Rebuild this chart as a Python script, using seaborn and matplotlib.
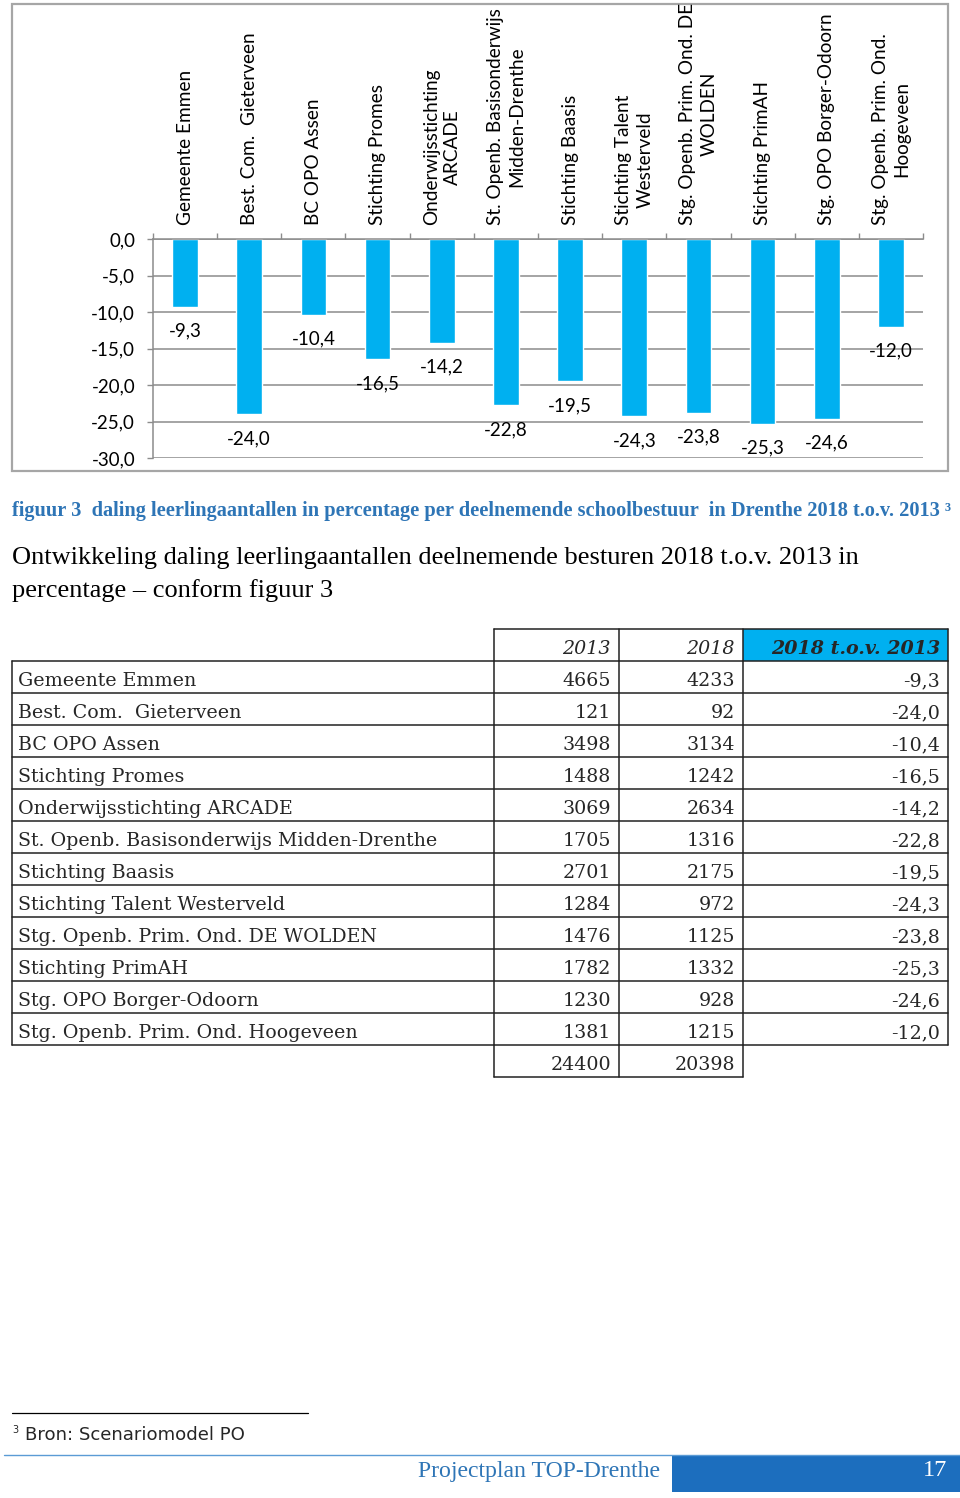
import numpy as np
import pandas as pd
import matplotlib
matplotlib.use("Agg")
import matplotlib.pyplot as plt
import seaborn as sns
from matplotlib.patches import Rectangle

# ---------------- data ----------------
names = [
    "Gemeente Emmen",
    "Best. Com.  Gieterveen",
    "BC OPO Assen",
    "Stichting Promes",
    "Onderwijsstichting ARCADE",
    "St. Openb. Basisonderwijs Midden-Drenthe",
    "Stichting Baasis",
    "Stichting Talent Westerveld",
    "Stg. Openb. Prim. Ond. DE WOLDEN",
    "Stichting PrimAH",
    "Stg. OPO Borger-Odoorn",
    "Stg. Openb. Prim. Ond. Hoogeveen",
]
chart_labels = [
    "Gemeente Emmen",
    "Best. Com.  Gieterveen",
    "BC OPO Assen",
    "Stichting Promes",
    "Onderwijsstichting\nARCADE",
    "St. Openb. Basisonderwijs\nMidden-Drenthe",
    "Stichting Baasis",
    "Stichting Talent\nWesterveld",
    "Stg. Openb. Prim. Ond. DE\nWOLDEN",
    "Stichting PrimAH",
    "Stg. OPO Borger-Odoorn",
    "Stg. Openb. Prim. Ond.\nHoogeveen",
]
pct = [-9.3, -24.0, -10.4, -16.5, -14.2, -22.8, -19.5, -24.3, -23.8, -25.3, -24.6, -12.0]
n2013 = [4665, 121, 3498, 1488, 3069, 1705, 2701, 1284, 1476, 1782, 1230, 1381]
n2018 = [4233, 92, 3134, 1242, 2634, 1316, 2175, 972, 1125, 1332, 928, 1215]
y_ticks = [0, -5, -10, -15, -20, -25, -30]
header_labels = ["2013", "2018", "2018 t.o.v. 2013"]

caption = ("figuur 3  daling leerlingaantallen in percentage per deelnemende "
           "schoolbestuur  in Drenthe 2018 t.o.v. 2013 \u00b3")
heading1 = "Ontwikkeling daling leerlingaantallen deelnemende besturen 2018 t.o.v. 2013 in"
heading2 = "percentage \u2013 conform figuur 3"

def fmt_nl(v):
    return f"{v:.1f}".replace(".", ",")

# ---------------- style ----------------
sns.set_style("white")
plt.rcParams["font.family"] = ["Lato", "DejaVu Sans"]

W, H = 960, 1498
BAR = "#00B0F0"
GRID = "#8C8C8C"
BLUE_TXT = "#2E75B6"

fig = plt.figure(figsize=(W / 100, H / 100), dpi=100)
page = fig.add_axes([0, 0, 1, 1], zorder=0)
page.set_xlim(0, W)
page.set_ylim(H, 0)
page.axis("off")

# chart frame
page.add_patch(Rectangle((12, 4), 936, 467, fill=False, ec="#A6A6A6", lw=1.6))

# ---------------- chart ----------------
ax = fig.add_axes([153 / W, 1 - 458 / H, 770 / W, 219 / H], zorder=1)
ax.set_facecolor("none")
df = pd.DataFrame({"bestuur": names, "pct": pct})
sns.barplot(data=df, x="bestuur", y="pct", color=BAR, saturation=1,
            width=0.4, ax=ax, zorder=2)
ax.set_ylim(-30, 0)
ax.set_xlim(-0.5, len(names) - 0.5)
ax.set_xlabel("")
ax.set_ylabel("")

ax.set_yticks(y_ticks)
ax.set_yticklabels([fmt_nl(v) for v in y_ticks])
ax.yaxis.grid(True, color=GRID, lw=1.1)
ax.set_axisbelow(True)
ax.tick_params(axis="y", length=4.3, width=1.0, color=GRID, pad=8.5,
               labelsize=13.5, labelcolor="black", left=True)

ax.xaxis.set_ticks_position("top")
ax.set_xticks(range(len(names)))
ax.set_xticklabels(chart_labels, rotation=90)
for lab in ax.get_xticklabels():
    lab.set_multialignment("center")
    lab.set_linespacing(1.3)
ax.set_xticks(np.arange(-0.5, len(names)), minor=True)
ax.tick_params(axis="x", which="major", length=0, pad=10, labelsize=13.7,
               labelcolor="black", top=True, bottom=False)
ax.tick_params(axis="x", which="minor", length=4, width=1.0, color=GRID,
               top=True, bottom=False)

for s in ["right", "bottom"]:
    ax.spines[s].set_visible(False)
for s in ["left", "top"]:
    ax.spines[s].set_color(GRID)
    ax.spines[s].set_linewidth(1.1)

for p, v in zip(ax.containers[0], pct):
    x = p.get_x() + p.get_width() / 2
    yend = p.get_y() + p.get_height()
    ax.annotate(fmt_nl(v), (x, yend), xytext=(0, -21.5), textcoords="offset points",
                ha="center", va="baseline", fontsize=13.5, color="black",
                annotation_clip=False)

# ---------------- caption & heading ----------------
t_cap = page.text(12, 511, caption, color=BLUE_TXT, fontweight="bold",
                  family=["Liberation Serif", "DejaVu Serif"], va="center", ha="left", fontsize=13)
t_h1 = page.text(12, 558, heading1, color="black",
                 family=["Liberation Serif", "DejaVu Serif"], va="center", ha="left", fontsize=17)
t_h2 = page.text(12, 591, heading2, color="black",
                 family=["Liberation Serif", "DejaVu Serif"], va="center", ha="left", fontsize=17)

# ---------------- table ----------------
TFONT = ["DejaVu Serif"]
LW = 1.1
LC = "#222222"
col_x = [12, 494, 619, 743, 948]
top_h = 629
row_h = 32
first = 661
n = len(names)
tsize = 13.5

# header fill
page.add_patch(Rectangle((col_x[3], top_h), col_x[4] - col_x[3], first - top_h,
                         fc=BAR, ec="none", zorder=1))
# header borders (columns 2-4 only)
page.plot([col_x[1], col_x[4]], [top_h, top_h], color=LC, lw=LW, zorder=3)
for cx in col_x[1:]:
    page.plot([cx, cx], [top_h, first], color=LC, lw=LW, zorder=3)
# data rows
for i in range(n + 1):
    yy = first + i * row_h
    page.plot([col_x[0], col_x[4]], [yy, yy], color=LC, lw=LW, zorder=3)
for cx in col_x:
    page.plot([cx, cx], [first, first + n * row_h], color=LC, lw=LW, zorder=3)
# total row
tot_bottom = first + (n + 1) * row_h
page.plot([col_x[1], col_x[3]], [tot_bottom, tot_bottom], color=LC, lw=LW, zorder=3)
for cx in col_x[1:4]:
    page.plot([cx, cx], [first + n * row_h, tot_bottom], color=LC, lw=LW, zorder=3)

table_texts = []
# header text
for j, lab in enumerate(header_labels):
    t = page.text(col_x[j + 2] - 8, first - 7, lab, ha="right", va="baseline",
                  family=TFONT, style="italic",
                  fontweight="bold" if j == 2 else "normal", fontsize=tsize, zorder=4)
    table_texts.append(t)
ref_text = None
for i in range(n):
    base = first + (i + 1) * row_h - 7
    t = page.text(col_x[0] + 6, base, names[i], ha="left", va="baseline",
                  family=TFONT, fontsize=tsize, zorder=4)
    if ref_text is None:
        ref_text = t
    table_texts.append(t)
    for j, val in enumerate([str(n2013[i]), str(n2018[i]), fmt_nl(pct[i])]):
        t = page.text(col_x[j + 2] - 8, base, val, ha="right", va="baseline",
                      family=TFONT, fontsize=tsize, zorder=4)
        table_texts.append(t)
base = tot_bottom - 7
for j, val in enumerate([str(sum(n2013)), str(sum(n2018))]):
    t = page.text(col_x[j + 2] - 8, base, val, ha="right", va="baseline",
                  family=TFONT, fontsize=tsize, zorder=4)
    table_texts.append(t)

# ---------------- footnote & footer ----------------
page.plot([12, 308], [1413, 1413], color="black", lw=0.9)
page.text(12, 1433, "3", family=["DejaVu Sans"], fontsize=7, va="baseline", ha="left")
t_fn = page.text(25, 1435, "Bron: Scenariomodel PO", family=["DejaVu Sans"],
                 fontsize=11, va="center", ha="left")
page.plot([4, 960], [1454.5, 1454.5], color="#5B9BD5", lw=1.0)
page.add_patch(Rectangle((672, 1455), 288, 37, fc="#1C6EBE", ec="none"))
t_ft = page.text(660, 1471, "Projectplan TOP-Drenthe", color=BLUE_TXT,
                 family=["Liberation Serif", "DejaVu Serif"], fontsize=15, va="center", ha="right")
page.text(947, 1471, "17", color="white", family=["Liberation Serif", "DejaVu Serif"],
          fontsize=17.5, va="center", ha="right")

# ---------------- fit text widths ----------------
fig.canvas.draw()
r = fig.canvas.get_renderer()

def fit(t, width_px):
    bb = t.get_window_extent(renderer=r)
    t.set_fontsize(t.get_fontsize() * width_px / bb.width)

fit(t_cap, 933)
fit(t_h1, 846)
t_h2.set_fontsize(t_h1.get_fontsize())
fit(t_fn, 221)
fit(t_ft, 244)
# table: fit reference name width
bb = ref_text.get_window_extent(renderer=r)
scale = 177 / bb.width
for t in table_texts:
    t.set_fontsize(t.get_fontsize() * scale)

fig.savefig("out.png", dpi=100)
